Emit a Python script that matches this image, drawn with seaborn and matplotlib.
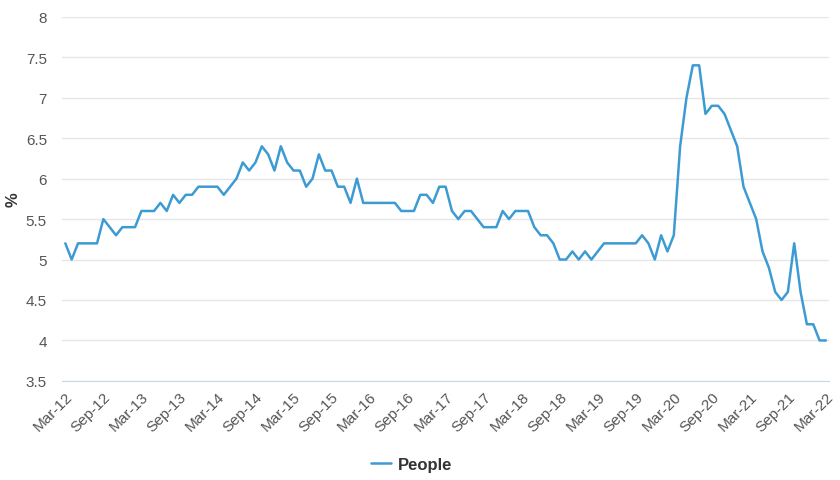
import matplotlib.pyplot as plt
import seaborn as sns
import pandas as pd

# monthly rate, Mar-12 .. Mar-22
people = [5.2, 5.0, 5.2, 5.2, 5.2, 5.2, 5.5, 5.4, 5.3, 5.4, 5.4, 5.4,
          5.6, 5.6, 5.6, 5.7, 5.6, 5.8, 5.7, 5.8, 5.8, 5.9, 5.9, 5.9,
          5.9, 5.8, 5.9, 6.0, 6.2, 6.1, 6.2, 6.4, 6.3, 6.1, 6.4, 6.2,
          6.1, 6.1, 5.9, 6.0, 6.3, 6.1, 6.1, 5.9, 5.9, 5.7, 6.0, 5.7,
          5.7, 5.7, 5.7, 5.7, 5.7, 5.6, 5.6, 5.6, 5.8, 5.8, 5.7, 5.9,
          5.9, 5.6, 5.5, 5.6, 5.6, 5.5, 5.4, 5.4, 5.4, 5.6, 5.5, 5.6,
          5.6, 5.6, 5.4, 5.3, 5.3, 5.2, 5.0, 5.0, 5.1, 5.0, 5.1, 5.0,
          5.1, 5.2, 5.2, 5.2, 5.2, 5.2, 5.2, 5.3, 5.2, 5.0, 5.3, 5.1,
          5.3, 6.4, 7.0, 7.4, 7.4, 6.8, 6.9, 6.9, 6.8, 6.6, 6.4, 5.9,
          5.7, 5.5, 5.1, 4.9, 4.6, 4.5, 4.6, 5.2, 4.6, 4.2, 4.2, 4.0,
          4.0]
months = pd.date_range("2012-03-01", periods=len(people), freq="MS")
tick_labels = [m.strftime("%b-%y") for m in months[::6]]
yticks = [3.5, 4, 4.5, 5, 5.5, 6, 6.5, 7, 7.5, 8]

df = pd.DataFrame({"idx": range(len(people)), "People": people})

sns.set_style("white")
plt.rcParams['font.family'] = ['Liberation Sans', 'DejaVu Sans']

fig = plt.figure(figsize=(8.4, 4.81), dpi=100)
ax = fig.add_axes([0.074, 0.206, 0.913, 0.757])

sns.lineplot(data=df, x="idx", y="People", ax=ax, color="#3d9bd3",
             linewidth=1.8, label="People", legend=False)

ax.set_xlim(-0.5, 120.5)
ax.set_ylim(3.5, 8)
ax.set_yticks(yticks)
ax.set_yticklabels([f"{v:g}" for v in yticks])
ax.set_xticks(range(0, len(people), 6))
ax.set_xticklabels(tick_labels, rotation=45, ha="right", rotation_mode="anchor")
ax.tick_params(axis="both", labelsize=11, labelcolor="#555555", length=0)
ax.tick_params(axis="y", pad=11)
ax.tick_params(axis="x", pad=6)

ax.grid(axis="y", color="#e6e6e6", linewidth=1)
for s in ["top", "right", "left"]:
    ax.spines[s].set_visible(False)
ax.spines["bottom"].set_color("#ccd6eb")
ax.set_axisbelow(True)

ax.set_xlabel("")
ax.set_ylabel("%", fontsize=12, fontweight="bold", color="#333333")
ax.yaxis.set_label_coords(-0.054, 0.5)

handles, labels = ax.get_legend_handles_labels()
leg = fig.legend(handles, labels, loc="center", bbox_to_anchor=(0.49, 0.032),
                 frameon=False, handlelength=1.2, handletextpad=0.4,
                 prop={"weight": "bold", "size": 12})
for t in leg.get_texts():
    t.set_color("#333333")

fig.savefig("out.png", dpi=100)
